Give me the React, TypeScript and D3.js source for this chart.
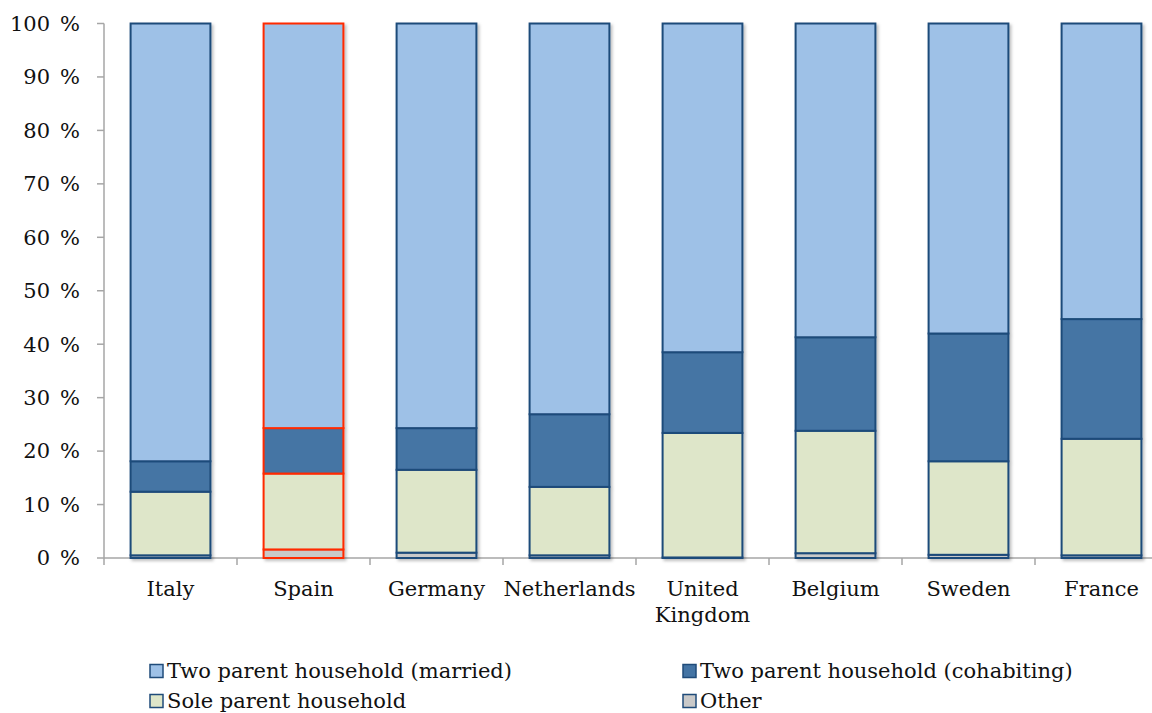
import React from "react";
import * as d3 from "d3";

const countries = ["Italy", "Spain", "Germany", "Netherlands", "United Kingdom", "Belgium", "Sweden", "France"];
const other = [0.5, 1.6, 1.0, 0.5, 0.1, 0.9, 0.6, 0.5];
const sole = [11.9, 14.2, 15.5, 12.8, 23.3, 22.9, 17.5, 21.8];
const cohabiting = [5.7, 8.5, 7.8, 13.6, 15.1, 17.5, 23.9, 22.4];
const married = [81.9, 75.7, 75.7, 73.1, 61.5, 58.7, 58.0, 55.3];
const yTicks = [0, 10, 20, 30, 40, 50, 60, 70, 80, 90, 100];
const seriesNames = ["Other", "Sole parent household", "Two parent household (cohabiting)", "Two parent household (married)"];
const seriesColors = ["#C9C9C9", "#DEE6C9", "#4474A4", "#9EC1E7"];
const highlighted = "Spain";

const W = 1152;
const H = 713;
const FONT = "'DejaVu Serif', serif";

export default function App() {
  const x = d3.scaleBand<string>().domain(countries).range([104, 1168]).paddingInner(0.4).paddingOuter(0.2);
  const y = d3.scaleLinear().domain([0, 100]).range([558, 23.5]);
  const rows = countries.map((c, i) => ({ country: c, other: other[i], sole: sole[i], cohabiting: cohabiting[i], married: married[i] }));
  const keys = ["other", "sole", "cohabiting", "married"];
  const stack = d3.stack<any>().keys(keys)(rows);
  const step = x.step();
  const boundaries = d3.range(countries.length + 1).map((i) => 104 + i * step);

  const legend = [
    { name: seriesNames[3], color: seriesColors[3], lx: 150, ly: 671 },
    { name: seriesNames[2], color: seriesColors[2], lx: 683, ly: 671 },
    { name: seriesNames[1], color: seriesColors[1], lx: 150, ly: 701 },
    { name: seriesNames[0], color: seriesColors[0], lx: 683, ly: 701 },
  ];

  return (
    <div style={{ position: "absolute", left: 0, top: 0 }}>
      <svg width={W} height={H} style={{ display: "block", background: "#fff" }}>
        <defs>
          <filter id="sh" x="-10%" y="-10%" width="130%" height="130%">
            <feDropShadow dx="2" dy="2" stdDeviation="1.5" floodColor="#000" floodOpacity="0.25" />
          </filter>
        </defs>
        {/* axes */}
        <line x1={104} x2={104} y1={y(100)} y2={y(0)} stroke="#A6A6A6" strokeWidth={1.5} />
        <line x1={104} x2={W} y1={y(0)} y2={y(0)} stroke="#A6A6A6" strokeWidth={1.5} />
        {yTicks.map((t) => (
          <g key={t}>
            <line x1={97} x2={104} y1={y(t)} y2={y(t)} stroke="#A6A6A6" strokeWidth={1.5} />
            <text x={80} y={y(t)} dy="0.35em" textAnchor="end" fontFamily={FONT} fontSize={21} fill="#111">
              {t}
              <tspan dx={10}>%</tspan>
            </text>
          </g>
        ))}
        {boundaries.map((b, i) => (
          <line key={i} x1={b} x2={b} y1={y(0)} y2={y(0) + 7} stroke="#A6A6A6" strokeWidth={1.5} />
        ))}
        {/* bars */}
        {countries.map((c, ci) => {
          const isHi = c === highlighted;
          return (
            <g key={c} filter="url(#sh)">
              {stack.map((s, si) => {
                const d = s[ci];
                return (
                  <rect
                    key={si}
                    x={x(c)!}
                    width={x.bandwidth()}
                    y={y(d[1])}
                    height={Math.max(0, y(d[0]) - y(d[1]))}
                    fill={seriesColors[si]}
                    stroke={isHi ? "#FF2A00" : "#1F4B7A"}
                    strokeWidth={2}
                  />
                );
              })}
            </g>
          );
        })}
        {/* x labels */}
        {countries.map((c) => {
          const parts = c === "United Kingdom" ? ["United", "Kingdom"] : [c];
          return (
            <text key={c} x={x(c)! + x.bandwidth() / 2} y={596} textAnchor="middle" fontFamily={FONT} fontSize={21} fill="#111">
              {parts.map((p, i) => (
                <tspan key={i} x={x(c)! + x.bandwidth() / 2} dy={i === 0 ? 0 : 26}>
                  {p}
                </tspan>
              ))}
            </text>
          );
        })}
        {/* legend */}
        {legend.map((l) => (
          <g key={l.name}>
            <rect x={l.lx} y={l.ly - 6.5} width={13} height={13} fill={l.color} stroke="#1F4B7A" strokeWidth={1.5} />
            <text x={l.lx + 17} y={l.ly} dy="0.35em" fontFamily={FONT} fontSize={21} fill="#111">
              {l.name}
            </text>
          </g>
        ))}
      </svg>
    </div>
  );
}
